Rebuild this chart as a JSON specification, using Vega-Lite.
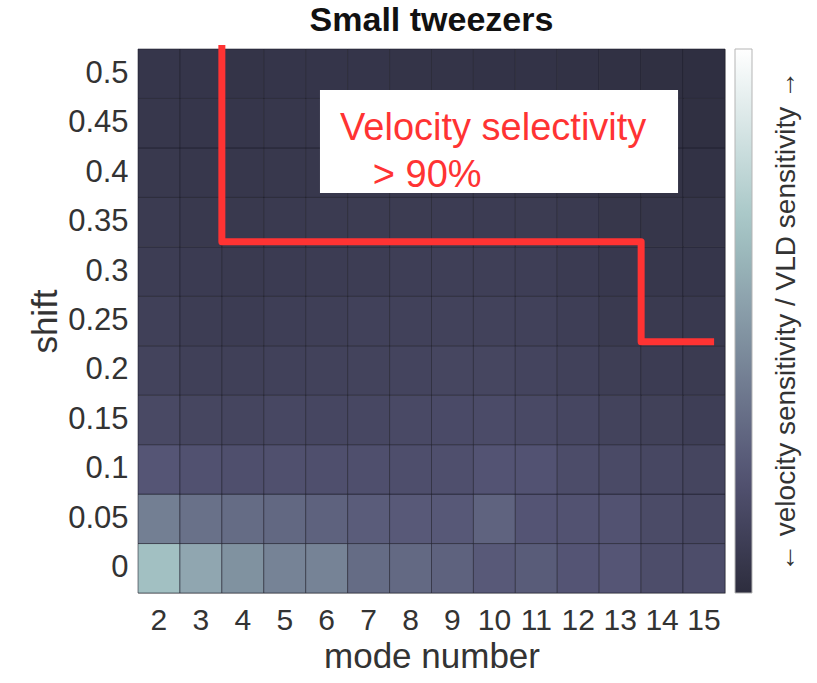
{
  "$schema": "https://vega.github.io/schema/vega-lite/v6.json",
  "width": 587,
  "height": 544,
  "autosize": {"type": "none"},
  "padding": {"left": 138, "top": 49, "right": 92, "bottom": 90},
  "background": "white",
  "config": {"view": {"stroke": "#bdbdbd", "strokeWidth": 1}, "font": "Liberation Sans"},
  "title": {"text": "Small tweezers", "fontSize": 34, "fontWeight": "bold", "font": "Liberation Sans", "color": "#111111", "offset": 4, "anchor": "middle"},
  "layer": [
    {
      "data": {"values": [
        {"mode":2,"shift":0,"value":0.66},{"mode":3,"shift":0,"value":0.555},{"mode":4,"shift":0,"value":0.47},{"mode":5,"shift":0,"value":0.41},{"mode":6,"shift":0,"value":0.41},{"mode":7,"shift":0,"value":0.315},{"mode":8,"shift":0,"value":0.305},{"mode":9,"shift":0,"value":0.275},{"mode":10,"shift":0,"value":0.24},{"mode":11,"shift":0,"value":0.25},{"mode":12,"shift":0,"value":0.219},{"mode":13,"shift":0,"value":0.225},{"mode":14,"shift":0,"value":0.18},{"mode":15,"shift":0,"value":0.18},
        {"mode":2,"shift":0.05,"value":0.395},{"mode":3,"shift":0.05,"value":0.338},{"mode":4,"shift":0.05,"value":0.315},{"mode":5,"shift":0.05,"value":0.3},{"mode":6,"shift":0.05,"value":0.275},{"mode":7,"shift":0.05,"value":0.253},{"mode":8,"shift":0.05,"value":0.24},{"mode":9,"shift":0.05,"value":0.236},{"mode":10,"shift":0.05,"value":0.28},{"mode":11,"shift":0.05,"value":0.219},{"mode":12,"shift":0.05,"value":0.208},{"mode":13,"shift":0.05,"value":0.205},{"mode":14,"shift":0.05,"value":0.168},{"mode":15,"shift":0.05,"value":0.152},
        {"mode":2,"shift":0.1,"value":0.225},{"mode":3,"shift":0.1,"value":0.202},{"mode":4,"shift":0.1,"value":0.19},{"mode":5,"shift":0.1,"value":0.195},{"mode":6,"shift":0.1,"value":0.19},{"mode":7,"shift":0.1,"value":0.19},{"mode":8,"shift":0.1,"value":0.188},{"mode":9,"shift":0.1,"value":0.19},{"mode":10,"shift":0.1,"value":0.213},{"mode":11,"shift":0.1,"value":0.21},{"mode":12,"shift":0.1,"value":0.174},{"mode":13,"shift":0.1,"value":0.163},{"mode":14,"shift":0.1,"value":0.146},{"mode":15,"shift":0.1,"value":0.135},
        {"mode":2,"shift":0.15,"value":0.155},{"mode":3,"shift":0.15,"value":0.138},{"mode":4,"shift":0.15,"value":0.133},{"mode":5,"shift":0.15,"value":0.148},{"mode":6,"shift":0.15,"value":0.143},{"mode":7,"shift":0.15,"value":0.148},{"mode":8,"shift":0.15,"value":0.159},{"mode":9,"shift":0.15,"value":0.165},{"mode":10,"shift":0.15,"value":0.17},{"mode":11,"shift":0.15,"value":0.159},{"mode":12,"shift":0.15,"value":0.143},{"mode":13,"shift":0.15,"value":0.121},{"mode":14,"shift":0.15,"value":0.11},{"mode":15,"shift":0.15,"value":0.098},
        {"mode":2,"shift":0.2,"value":0.122},{"mode":3,"shift":0.2,"value":0.105},{"mode":4,"shift":0.2,"value":0.105},{"mode":5,"shift":0.2,"value":0.112},{"mode":6,"shift":0.2,"value":0.117},{"mode":7,"shift":0.2,"value":0.122},{"mode":8,"shift":0.2,"value":0.128},{"mode":9,"shift":0.2,"value":0.138},{"mode":10,"shift":0.2,"value":0.138},{"mode":11,"shift":0.2,"value":0.128},{"mode":12,"shift":0.2,"value":0.112},{"mode":13,"shift":0.2,"value":0.095},{"mode":14,"shift":0.2,"value":0.085},{"mode":15,"shift":0.2,"value":0.079},
        {"mode":2,"shift":0.25,"value":0.106},{"mode":3,"shift":0.25,"value":0.09},{"mode":4,"shift":0.25,"value":0.086},{"mode":5,"shift":0.25,"value":0.096},{"mode":6,"shift":0.25,"value":0.101},{"mode":7,"shift":0.25,"value":0.112},{"mode":8,"shift":0.25,"value":0.112},{"mode":9,"shift":0.25,"value":0.117},{"mode":10,"shift":0.25,"value":0.117},{"mode":11,"shift":0.25,"value":0.112},{"mode":12,"shift":0.25,"value":0.096},{"mode":13,"shift":0.25,"value":0.074},{"mode":14,"shift":0.25,"value":0.074},{"mode":15,"shift":0.25,"value":0.069},
        {"mode":2,"shift":0.3,"value":0.091},{"mode":3,"shift":0.3,"value":0.08},{"mode":4,"shift":0.3,"value":0.075},{"mode":5,"shift":0.3,"value":0.08},{"mode":6,"shift":0.3,"value":0.086},{"mode":7,"shift":0.3,"value":0.091},{"mode":8,"shift":0.3,"value":0.097},{"mode":9,"shift":0.3,"value":0.102},{"mode":10,"shift":0.3,"value":0.102},{"mode":11,"shift":0.3,"value":0.097},{"mode":12,"shift":0.3,"value":0.08},{"mode":13,"shift":0.3,"value":0.064},{"mode":14,"shift":0.3,"value":0.058},{"mode":15,"shift":0.3,"value":0.053},
        {"mode":2,"shift":0.35,"value":0.076},{"mode":3,"shift":0.35,"value":0.065},{"mode":4,"shift":0.35,"value":0.065},{"mode":5,"shift":0.35,"value":0.071},{"mode":6,"shift":0.35,"value":0.076},{"mode":7,"shift":0.35,"value":0.082},{"mode":8,"shift":0.35,"value":0.082},{"mode":9,"shift":0.35,"value":0.087},{"mode":10,"shift":0.35,"value":0.087},{"mode":11,"shift":0.35,"value":0.082},{"mode":12,"shift":0.35,"value":0.071},{"mode":13,"shift":0.35,"value":0.054},{"mode":14,"shift":0.35,"value":0.049},{"mode":15,"shift":0.35,"value":0.044},
        {"mode":2,"shift":0.4,"value":0.066},{"mode":3,"shift":0.4,"value":0.056},{"mode":4,"shift":0.4,"value":0.056},{"mode":5,"shift":0.4,"value":0.061},{"mode":6,"shift":0.4,"value":0.061},{"mode":7,"shift":0.4,"value":0.066},{"mode":8,"shift":0.4,"value":0.066},{"mode":9,"shift":0.4,"value":0.066},{"mode":10,"shift":0.4,"value":0.066},{"mode":11,"shift":0.4,"value":0.061},{"mode":12,"shift":0.4,"value":0.05},{"mode":13,"shift":0.4,"value":0.039},{"mode":14,"shift":0.4,"value":0.033},{"mode":15,"shift":0.4,"value":0.028},
        {"mode":2,"shift":0.45,"value":0.057},{"mode":3,"shift":0.45,"value":0.051},{"mode":4,"shift":0.45,"value":0.051},{"mode":5,"shift":0.45,"value":0.057},{"mode":6,"shift":0.45,"value":0.057},{"mode":7,"shift":0.45,"value":0.057},{"mode":8,"shift":0.45,"value":0.057},{"mode":9,"shift":0.45,"value":0.051},{"mode":10,"shift":0.45,"value":0.051},{"mode":11,"shift":0.45,"value":0.046},{"mode":12,"shift":0.45,"value":0.034},{"mode":13,"shift":0.45,"value":0.029},{"mode":14,"shift":0.45,"value":0.023},{"mode":15,"shift":0.45,"value":0.018},
        {"mode":2,"shift":0.5,"value":0.052},{"mode":3,"shift":0.5,"value":0.047},{"mode":4,"shift":0.5,"value":0.041},{"mode":5,"shift":0.5,"value":0.047},{"mode":6,"shift":0.5,"value":0.047},{"mode":7,"shift":0.5,"value":0.047},{"mode":8,"shift":0.5,"value":0.041},{"mode":9,"shift":0.5,"value":0.041},{"mode":10,"shift":0.5,"value":0.035},{"mode":11,"shift":0.5,"value":0.035},{"mode":12,"shift":0.5,"value":0.03},{"mode":13,"shift":0.5,"value":0.024},{"mode":14,"shift":0.5,"value":0.018},{"mode":15,"shift":0.5,"value":0.012}
      ]},
      "mark": {"type": "rect", "stroke": "#1c1c28", "strokeWidth": 1, "strokeOpacity": 0.55},
      "encoding": {
        "x": {"field": "mode", "type": "ordinal", "scale": {"paddingInner": 0, "paddingOuter": 0},
          "axis": {"title": "mode number", "labelAngle": 0, "ticks": false, "domain": false, "grid": false, "labelFontSize": 30, "labelColor": "#333333", "labelPadding": 12, "titleFontSize": 35, "titleFontWeight": "normal", "titleColor": "#333333", "titlePadding": 4}},
        "y": {"field": "shift", "type": "ordinal", "sort": "descending", "scale": {"paddingInner": 0, "paddingOuter": 0},
          "axis": {"title": "shift", "ticks": false, "domain": false, "grid": false, "labelFontSize": 31, "labelColor": "#333333", "labelPadding": 10, "titleFontSize": 35, "titleFontWeight": "normal", "titleColor": "#333333", "titlePadding": 4}},
        "color": {"field": "value", "type": "quantitative",
          "scale": {"domain": [0, 0.219, 0.6875, 1], "range": ["#2d2d3e", "#545474", "#a7c7c7", "#ffffff"], "interpolate": "rgb"},
          "legend": {"orient": "none", "legendX": 597, "legendY": 0, "direction": "vertical", "gradientLength": 544, "gradientThickness": 17, "gradientStrokeColor": "#b5b5b5", "gradientStrokeWidth": 1, "labelExpr": "''", "labelOffset": 0, "title": null, "padding": 0}}
      }
    },
    {
      "layer": [
        {
          "data": {"values": [{}]},
          "mark": {"type": "rect", "fill": "white"},
          "encoding": {
            "x": {"datum": 5.84, "type": "quantitative", "scale": {"domain": [1.5, 15.5], "nice": false, "zero": false}, "axis": null},
            "x2": {"datum": 14.38},
            "y": {"datum": 0.4835, "type": "quantitative", "scale": {"domain": [-0.025, 0.525], "nice": false, "zero": false},
              "axis": {"orient": "right", "title": "← velocity sensitivity / VLD sensitivity →", "labels": false, "ticks": false, "domain": false, "grid": false, "titleAngle": 270, "titleX": 61, "titleY": 272, "titleAlign": "center", "titleBaseline": "middle", "titleFontSize": 28, "titleFontWeight": "normal", "titleColor": "#333333", "titleLimit": 700}},
            "y2": {"datum": 0.3794}
          }
        },
        {
          "data": {"values": [
            {"step": 1, "mode": 3.5, "shift": 0.529},
            {"step": 2, "mode": 3.5, "shift": 0.33},
            {"step": 3, "mode": 13.5, "shift": 0.33},
            {"step": 4, "mode": 13.5, "shift": 0.229},
            {"step": 5, "mode": 15.24, "shift": 0.229}
          ]},
          "mark": {"type": "line", "color": "#ff3333", "strokeWidth": 7, "strokeJoin": "round"},
          "encoding": {
            "x": {"field": "mode", "type": "quantitative"},
            "y": {"field": "shift", "type": "quantitative"},
            "order": {"field": "step"}
          }
        },
        {
          "data": {"values": [{}]},
          "mark": {"type": "text", "text": "Velocity selectivity", "fontSize": 38, "color": "#ff3333", "align": "left", "baseline": "alphabetic", "font": "Liberation Sans"},
          "encoding": {
            "x": {"datum": 6.32, "type": "quantitative"},
            "y": {"datum": 0.433, "type": "quantitative"}
          }
        },
        {
          "data": {"values": [{}]},
          "mark": {"type": "text", "text": "> 90%", "fontSize": 38, "color": "#ff3333", "align": "left", "baseline": "alphabetic", "font": "Liberation Sans"},
          "encoding": {
            "x": {"datum": 7.1, "type": "quantitative"},
            "y": {"datum": 0.3855, "type": "quantitative"}
          }
        }
      ]
    }
  ],
  "resolve": {"scale": {"x": "independent", "y": "independent"}}
}
